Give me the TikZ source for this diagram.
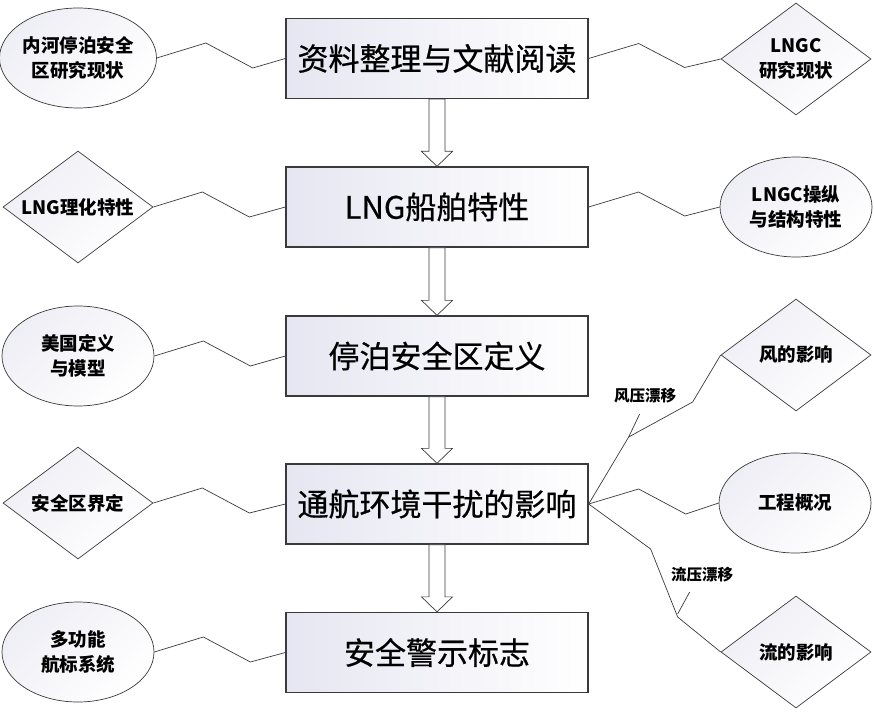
\documentclass[tikz,border=0pt]{standalone}
\usepackage{fontspec}
\newfontfamily\cjk{Noto Sans CJK SC}
\newfontfamily\cjkbox[FakeBold=0.6]{Noto Sans CJK SC}
\usetikzlibrary{shapes.geometric,calc}
\definecolor{shadeA}{HTML}{E6E6F2}
\definecolor{shadeB}{HTML}{EEEEF5}
\definecolor{lineC}{HTML}{3A3A3A}
\begin{document}
\begin{tikzpicture}[x=1pt,y=-1pt,
  box/.style={draw=lineC, line width=1.3pt, minimum width=302pt, minimum height=80pt,
    inner sep=0pt, left color=shadeA, right color=white,
    font=\cjkbox\fontsize{31}{36}\selectfont},
  sidetxt/.style={draw=lineC, line width=0.7pt, inner sep=0pt, align=center,
    top color=shadeB, bottom color=white, shading angle=45,
    font=\cjk\bfseries\fontsize{18.5}{25}\selectfont},
  oval/.style={sidetxt, ellipse, minimum width=152pt, minimum height=100pt},
  dia/.style={sidetxt, diamond, shape aspect=1.34, minimum width=150pt, minimum height=112pt},
  conn/.style={draw=lineC, line width=0.7pt},
  hollow/.style={draw=lineC, line width=0.7pt, fill=white, line join=miter},
  lbl/.style={font=\cjk\bfseries\fontsize{15.5}{18}\selectfont, inner sep=0pt}
]
\useasboundingbox (0,0) rectangle (874,711);

% main boxes
\node[box] (b1) at (437,58.5) {资料整理与文献阅读};
\node[box] (b2) at (437,207) {LNG船舶特性};
\node[box] (b3) at (437,356) {停泊安全区定义};
\node[box] (b4) at (437,504) {通航环境干扰的影响};
\node[box] (b5) at (437,652.5) {安全警示标志};

% left shapes
\node[oval] (l1) at (78,58) {内河停泊安全\\区研究现状};
\node[dia]  (l2) at (78,207) {LNG理化特性};
\node[oval] (l3) at (78,356) {美国定义\\与模型};
\node[dia]  (l4) at (78,503) {安全区界定};
\node[oval] (l5) at (78,652) {多功能\\航标系统};

% right shapes
\node[dia]  (r1) at (796,59) {LNGC\\研究现状};
\node[oval] (r2) at (796,207) {LNGC操纵\\与结构特性};
\node[dia]  (rw) at (796,355) {风的影响};
\node[oval] (rg) at (795,503) {工程概况};
\node[dia]  (rc) at (796,652) {流的影响};

% hollow arrows
\foreach \a/\b in {b1/b2,b2/b3,b3/b4,b4/b5}{
  \draw[hollow] ($(\a.south)+(-8,0)$) -- ($(\b.north)+(-8,-15)$) -- ($(\b.north)+(-15.5,-15)$)
    -- (\b.north) -- ($(\b.north)+(15.5,-15)$) -- ($(\b.north)+(8,-15)$) -- ($(\a.south)+(8,0)$) -- cycle;
}

% left connectors
\foreach \i in {1,...,5}{
  \draw[conn] (l\i.east) -- ++(49,-15) -- ++(47,25) -- (b\i.west);
}

% right connectors
\draw[conn] (b1.east) -- ++(50,-15) -- ++(46,24) -- (r1.west);
\draw[conn] (b2.east) -- ++(50,-15) -- ++(46,24) -- (r2.west);
\draw[conn] (b4.east) -- ++(50,-15) -- ++(47,25) -- (rg.west);
\draw[conn] (b4.east) -- ++(40,-67) coordinate (kw) -- ++(64,-35) -- (rw.west);
\draw[conn] (b4.east) -- ++(62,45) -- ++(27,68) coordinate (kc) -- (rc.west);

% labels with leaders
\node[lbl] (lw) at (645,396) {风压漂移};
\node[lbl] (lc) at (702,575) {流压漂移};
\draw[conn] (kw) -- ++(11,-23);
\draw[conn] ($(kc)+(0,-3)$) -- ++(12,-22);
\end{tikzpicture}
\end{document}
